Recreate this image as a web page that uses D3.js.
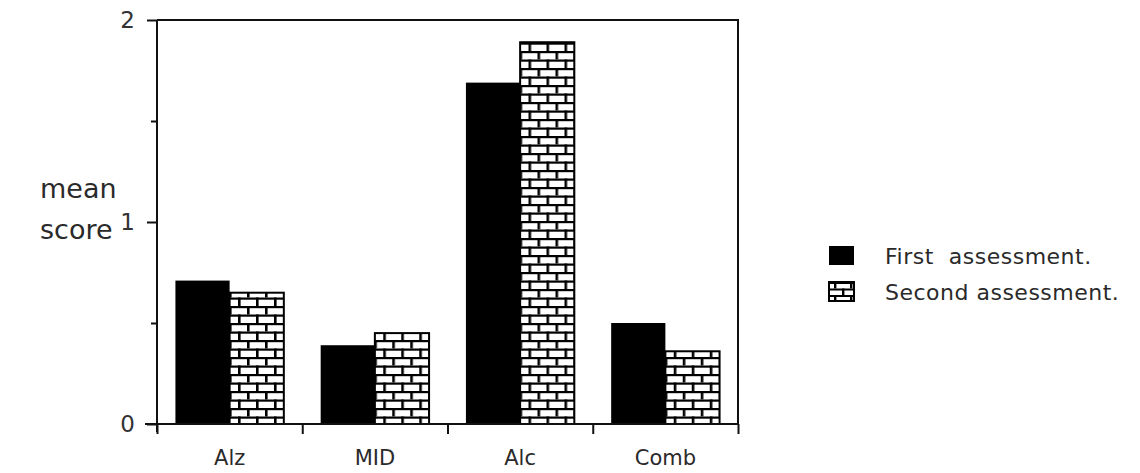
<!DOCTYPE html>
<html>
<head>
  <meta charset="utf-8">
  <script src="https://d3js.org/d3.v7.min.js"></script>
  <style>
    body { margin: 0; background: #fff; }
    text { font-family: "DejaVu Sans", sans-serif; fill: #2a2a2a; }
    .axis path, .axis line { stroke: #111; stroke-width: 2; }
    .axis text { font-size: 23px; fill: #333; }
    .cat text { font-size: 21px; }
    .legend text { font-size: 22px; white-space: pre; letter-spacing: 0.5px; }
  </style>
</head>
<body>
<div id="chart"></div>
<script>
  var categories = ['Alz', 'MID', 'Alc', 'Comb'];
  var firstScores = [0.71, 0.39, 1.69, 0.50];
  var secondScores = [0.65, 0.45, 1.89, 0.36];
  var seriesNames = ['First  assessment.', 'Second assessment.'];
  var majorTicks = [0, 1, 2];
  var minorTicks = [0.5, 1.5];

  (function(d3) {
    'use strict';

    var width = 1140, height = 473;
    var pLeft = 157, pRight = 738, pTop = 20, pBottom = 424;

    var svg = d3.select('#chart').append('svg')
      .attr('width', width)
      .attr('height', height);

    // brick hatch: w x h tile, two courses, offset half a brick
    function brick(id, w, h, lw, tx, ty) {
      var p = svg.append('defs').append('pattern')
        .attr('id', id)
        .attr('patternUnits', 'userSpaceOnUse')
        .attr('patternTransform', 'translate(' + tx + ',' + ty + ')')
        .attr('width', w)
        .attr('height', h);
      p.append('rect').attr('width', w).attr('height', h).attr('fill', '#fff');
      p.append('rect').attr('x', 0).attr('y', 0).attr('width', w).attr('height', lw).attr('fill', '#000');
      p.append('rect').attr('x', 0).attr('y', h / 2).attr('width', w).attr('height', lw).attr('fill', '#000');
      p.append('rect').attr('x', 0).attr('y', 0).attr('width', lw + 0.4).attr('height', h / 2).attr('fill', '#000');
      p.append('rect').attr('x', w / 2).attr('y', h / 2).attr('width', lw + 0.4).attr('height', h / 2).attr('fill', '#000');
    }
    brick('brick', 18, 17, 2.2, 0, 0);
    brick('brickIcon', 16, 13, 2, 5, 0);

    var y = d3.scaleLinear().domain([0, 2]).range([pBottom, pTop]);
    var x = d3.scaleBand().domain(categories).range([pLeft, pRight]).padding(0);
    var xs = d3.scaleBand().domain([0, 1]).range([0, x.bandwidth()])
      .paddingInner(0).paddingOuter(0.34);
    var xLin = d3.scaleLinear().domain([0, categories.length]).range([pLeft, pRight]);

    // bars
    var groups = svg.selectAll('.grp')
      .data(categories)
      .enter().append('g')
      .attr('class', 'grp')
      .attr('transform', function(d) { return 'translate(' + x(d) + ',0)'; });

    groups.append('rect')
      .attr('x', xs(0))
      .attr('y', function(d, i) { return y(firstScores[i]); })
      .attr('width', xs.bandwidth())
      .attr('height', function(d, i) { return pBottom - y(firstScores[i]); })
      .attr('fill', '#000');

    groups.append('rect')
      .attr('x', xs(1))
      .attr('y', function(d, i) { return y(secondScores[i]); })
      .attr('width', xs.bandwidth())
      .attr('height', function(d, i) { return pBottom - y(secondScores[i]); })
      .attr('fill', 'url(#brick)')
      .attr('stroke', '#000')
      .attr('stroke-width', 2);

    // frame top + right
    svg.append('path')
      .attr('d', 'M' + pLeft + ',' + pTop + 'H' + pRight + 'V' + pBottom)
      .attr('fill', 'none')
      .attr('stroke', '#111')
      .attr('stroke-width', 2);

    // y axis
    svg.append('g')
      .attr('class', 'axis')
      .attr('transform', 'translate(' + pLeft + ',0)')
      .call(d3.axisLeft(y).tickValues(majorTicks).tickSize(10).tickPadding(12)
        .tickFormat(d3.format('d')))
      .call(function(g) { g.select('.domain').attr('d', 'M0,' + pTop + 'V' + (pBottom + 8)); });

    svg.append('g')
      .attr('class', 'axis')
      .attr('transform', 'translate(' + pLeft + ',0)')
      .call(d3.axisLeft(y).tickValues(minorTicks).tickSize(6).tickFormat(''))
      .call(function(g) { g.select('.domain').remove(); });

    // x axis
    svg.append('g')
      .attr('class', 'axis')
      .attr('transform', 'translate(0,' + pBottom + ')')
      .call(d3.axisBottom(xLin).tickValues(d3.range(categories.length + 1)).tickSize(10).tickFormat(''))
      .call(function(g) { g.select('.domain').attr('d', 'M' + (pLeft - 12) + ',0H' + (pRight + 1)); });

    svg.append('g')
      .attr('class', 'cat')
      .attr('transform', 'translate(0,' + pBottom + ')')
      .call(d3.axisBottom(x).tickSize(0).tickPadding(26))
      .call(function(g) { g.select('.domain').remove(); });

    // y title
    svg.append('text').attr('x', 40).attr('y', 198).style('font-size', '27px').text('mean');
    svg.append('text').attr('x', 40).attr('y', 239).style('font-size', '27px').text('score');

    // legend
    var legend = svg.append('g').attr('class', 'legend')
      .selectAll('g')
      .data(seriesNames)
      .enter().append('g')
      .attr('transform', function(d, i) { return 'translate(829,' + (246 + i * 36) + ')'; });

    legend.append('rect')
      .attr('width', 25)
      .attr('height', 19)
      .attr('fill', function(d, i) { return i === 0 ? '#000' : 'url(#brickIcon)'; })
      .attr('stroke', '#000')
      .attr('stroke-width', function(d, i) { return i === 0 ? 0 : 2; });

    legend.append('text')
      .attr('x', 56)
      .attr('y', 18)
      .text(function(d) { return d; });
  })(window.d3);
</script>
</body>
</html>
